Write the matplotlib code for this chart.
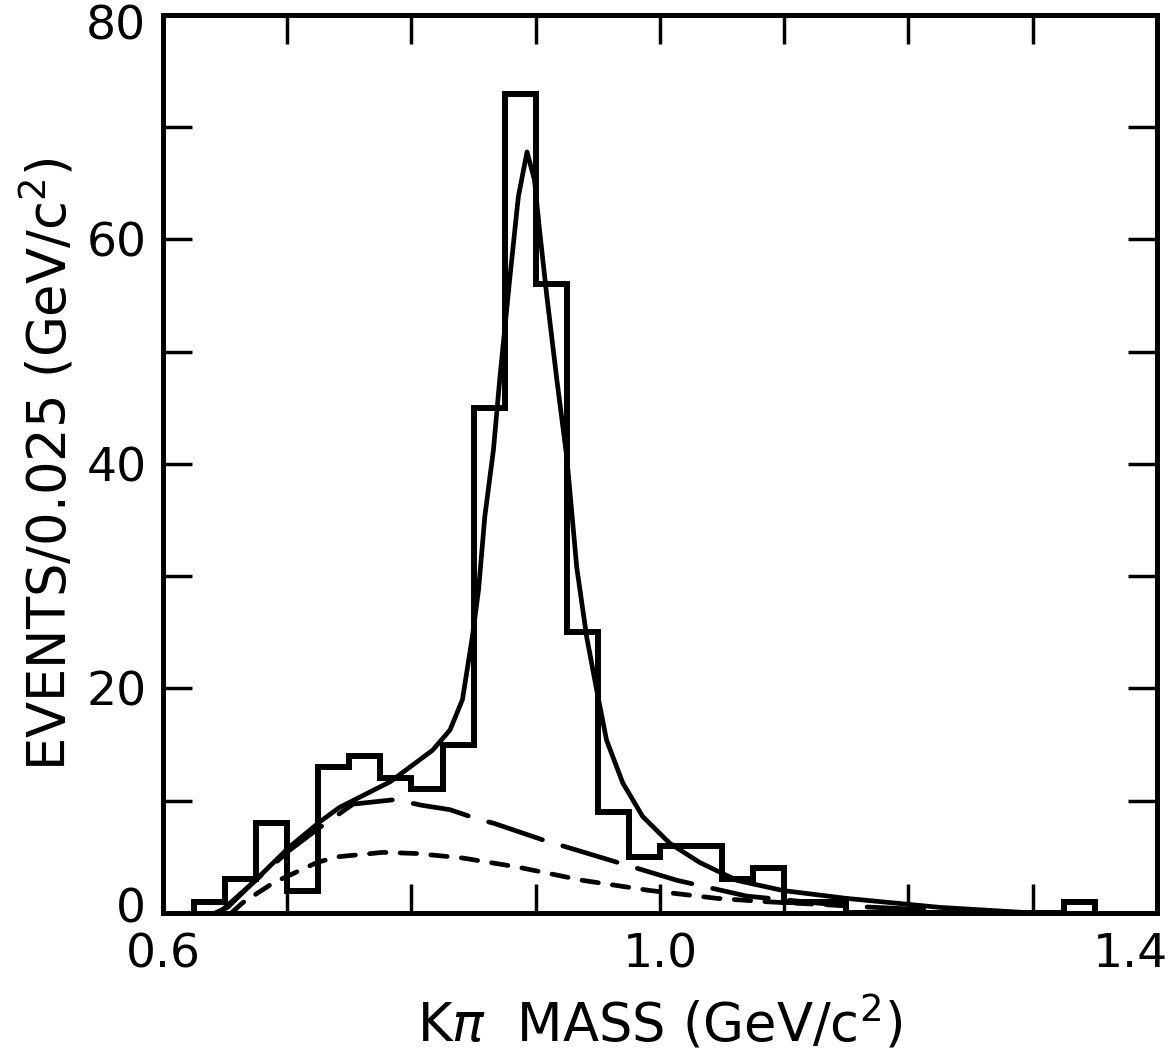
import numpy as np
import matplotlib
matplotlib.use("Agg")
from matplotlib import pyplot as plt
from matplotlib import transforms

# histogram of K-pi mass, bin width 0.025
bin_edges = [0.625, 0.65, 0.675, 0.70, 0.725, 0.75, 0.775, 0.80, 0.825, 0.85,
             0.875, 0.90, 0.925, 0.95, 0.975, 1.00, 1.025, 1.05, 1.075, 1.10,
             1.125, 1.15, 1.175, 1.20, 1.225, 1.25, 1.275, 1.30, 1.325, 1.35]
counts = [1, 3, 8, 2, 13, 14, 12, 11, 15, 45,
          73, 56, 25, 9, 5, 6, 6, 3, 4, 1,
          1, 0, 0, 0, 0, 0, 0, 0, 1]

# total fit (solid)
fit_x = [0.642, 0.652, 0.702, 0.726, 0.742, 0.783, 0.817, 0.831, 0.841, 0.849,
         0.854, 0.859, 0.866, 0.871, 0.879, 0.886, 0.893, 0.899, 0.903, 0.909,
         0.917, 0.925, 0.933, 0.941, 0.949, 0.957, 0.970, 0.986, 1.008, 1.032,
         1.062, 1.099, 1.150, 1.225, 1.300]
fit_y = [0.0, 0.5, 5.9, 8.1, 9.4, 11.7, 14.5, 16.3, 19.0, 24.6,
         28.8, 35.3, 41.3, 47.5, 56.4, 63.8, 67.8, 65.3, 60.9, 54.9,
         47.5, 40.6, 30.8, 24.6, 19.9, 15.4, 11.6, 8.6, 6.2, 4.5,
         2.9, 2.0, 1.3, 0.5, 0.0]

# background (long dashes)
bg_x = [0.645, 0.702, 0.726, 0.753, 0.787, 0.808, 0.831, 0.855, 0.866, 0.906,
        0.960, 1.014, 1.070, 1.153, 1.233, 1.300]
bg_y = [0.0, 5.6, 7.6, 9.7, 10.1, 9.6, 9.2, 8.3, 8.0, 6.5,
        4.7, 2.9, 1.5, 0.6, 0.2, 0.0]

# second background component (short dashes)
bg2_x = [0.655, 0.664, 0.689, 0.724, 0.740, 0.777, 0.804, 0.841, 0.885, 0.938,
         0.992, 1.046, 1.086, 1.157]
bg2_y = [0.0, 0.9, 2.7, 4.5, 5.0, 5.4, 5.3, 4.9, 4.1, 2.9,
         2.0, 1.3, 1.0, 0.6]

fig = plt.figure(figsize=(11.76, 10.54), dpi=100)
ax = fig.add_axes([0.1386, 0.1338, 0.8452, 0.852])

ax.stairs(counts, bin_edges, color="black", lw=4.3)
ax.plot(fit_x, fit_y, color="black", lw=3.4, solid_capstyle="round")
ax.plot(bg_x, bg_y, color="black", lw=3.4, dashes=(12, 4.5), dash_capstyle="round")
ax.plot(bg2_x, bg2_y, color="black", lw=3.4, dashes=(3.5, 3), dash_capstyle="round")

ax.set_xlim(0.6, 1.4)
ax.set_ylim(0, 80)
ax.set_xticks([0.6, 1.0, 1.4])
ax.set_xticklabels(["0.6", "1.0", "1.4"])
ax.set_xticks(np.arange(0.6, 1.41, 0.1), minor=True)
ax.set_yticks([0, 20, 40, 60, 80])
ax.set_yticks(np.arange(0, 81, 10), minor=True)

for side in ax.spines.values():
    side.set_linewidth(3.6)
ax.tick_params(which="both", direction="in", top=True, right=True,
               length=21, width=2.5, labelsize=34)
ax.tick_params(axis="x", pad=14)
ax.tick_params(axis="y", pad=12)

# nudge the end labels inwards like in the original print
def nudge(label, dx, dy):
    label.set_transform(label.get_transform() +
                        transforms.ScaledTranslation(dx / 100, dy / 100, fig.dpi_scale_trans))

fig.canvas.draw()
xl = ax.get_xticklabels()
nudge(xl[-1], -27, 0)
yl = ax.get_yticklabels()
nudge(yl[0], 0, 8)
nudge(yl[-1], 0, -7)

ax.set_xlabel(r"K$\pi$  MASS (GeV/c$^2$)", fontsize=38, labelpad=12)
ax.set_ylabel(r"EVENTS/0.025 (GeV/c$^2$)", fontsize=38, labelpad=6)

fig.savefig("out.png", dpi=100)
